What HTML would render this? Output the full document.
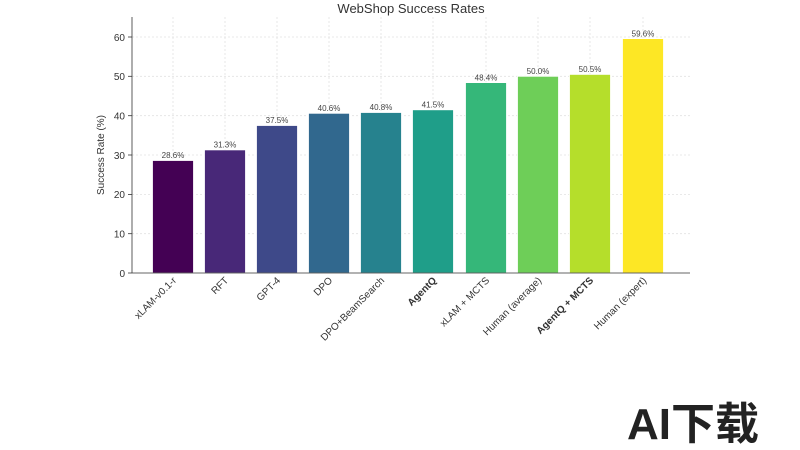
<!DOCTYPE html>
<html><head><style>body{margin:0;background:#fff}svg{display:block}</style></head><body>
<svg width="800" height="450" viewBox="0 0 800 450" xmlns="http://www.w3.org/2000/svg" font-family="Liberation Sans, DejaVu Sans, sans-serif">
<rect width="800" height="450" fill="#fff"/>
<text x="411" y="13" font-size="13" fill="#333" text-anchor="middle">WebShop Success Rates</text>
<g stroke="#e2e2e2" stroke-dasharray="2,2" stroke-width="0.8">
<line x1="132" x2="690" y1="233.7" y2="233.7"/><line x1="132" x2="690" y1="194.4" y2="194.4"/><line x1="132" x2="690" y1="155" y2="155"/><line x1="132" x2="690" y1="115.7" y2="115.7"/><line x1="132" x2="690" y1="76.3" y2="76.3"/><line x1="132" x2="690" y1="37" y2="37"/>
<line x1="173" x2="173" y1="17" y2="273"/><line x1="225" x2="225" y1="17" y2="273"/><line x1="277" x2="277" y1="17" y2="273"/><line x1="329" x2="329" y1="17" y2="273"/><line x1="381" x2="381" y1="17" y2="273"/><line x1="433" x2="433" y1="17" y2="273"/><line x1="486" x2="486" y1="17" y2="273"/><line x1="538" x2="538" y1="17" y2="273"/><line x1="590" x2="590" y1="17" y2="273"/><line x1="643" x2="643" y1="17" y2="273"/>
</g>
<g stroke="#fff" stroke-width="0.8">
<rect x="152.5" y="160.5" width="41" height="112.5" fill="#440154"/>
<rect x="204.5" y="149.9" width="41" height="123.1" fill="#482878"/>
<rect x="256.5" y="125.5" width="41" height="147.5" fill="#3e4989"/>
<rect x="308.5" y="113.3" width="41" height="159.7" fill="#31688e"/>
<rect x="360.5" y="112.5" width="41" height="160.5" fill="#26828e"/>
<rect x="412.5" y="109.8" width="41" height="163.2" fill="#1f9e89"/>
<rect x="465.5" y="82.6" width="41" height="190.4" fill="#35b779"/>
<rect x="517.5" y="76.3" width="41" height="196.7" fill="#6ece58"/>
<rect x="569.5" y="74.4" width="41" height="198.6" fill="#b5de2b"/>
<rect x="622.5" y="38.6" width="41" height="234.4" fill="#fde725"/>
</g>
<g font-size="8" fill="#444" text-anchor="middle">
<text x="173" y="158">28.6%</text><text x="225" y="147.5">31.3%</text><text x="277" y="123">37.5%</text><text x="329" y="111">40.6%</text><text x="381" y="110">40.8%</text><text x="433" y="107.5">41.5%</text><text x="486" y="80.5">48.4%</text><text x="538" y="74">50.0%</text><text x="590" y="72">50.5%</text><text x="643" y="36.5">59.6%</text>
</g>
<g stroke="#333" stroke-width="0.8" fill="none">
<line x1="132" y1="17" x2="132" y2="273"/><line x1="132" y1="273" x2="690" y2="273"/>
</g>
<g stroke="#333" stroke-width="0.8">
<line x1="128" x2="132" y1="273" y2="273"/><line x1="128" x2="132" y1="233.7" y2="233.7"/><line x1="128" x2="132" y1="194.4" y2="194.4"/><line x1="128" x2="132" y1="155" y2="155"/><line x1="128" x2="132" y1="115.7" y2="115.7"/><line x1="128" x2="132" y1="76.3" y2="76.3"/><line x1="128" x2="132" y1="37" y2="37"/>
</g>
<g font-size="10" fill="#333" text-anchor="end">
<text x="125" y="277">0</text><text x="125" y="237.5">10</text><text x="125" y="198">20</text><text x="125" y="159">30</text><text x="125" y="119.5">40</text><text x="125" y="80">50</text><text x="125" y="41">60</text>
</g>
<text transform="translate(104,155) rotate(-90)" font-size="10" fill="#333" text-anchor="middle">Success Rate (%)</text>
<g font-size="10" fill="#333" text-anchor="end">
<text transform="translate(177,281) rotate(-45)">xLAM-v0.1-r</text>
<text transform="translate(229,281) rotate(-45)">RFT</text>
<text transform="translate(281,281) rotate(-45)">GPT-4</text>
<text transform="translate(333,281) rotate(-45)">DPO</text>
<text transform="translate(385,281) rotate(-45)">DPO+BeamSearch</text>
<text transform="translate(437,281) rotate(-45)" font-weight="bold">AgentQ</text>
<text transform="translate(490,281) rotate(-45)">xLAM + MCTS</text>
<text transform="translate(542,281) rotate(-45)">Human (average)</text>
<text transform="translate(594,281) rotate(-45)" font-weight="bold">AgentQ + MCTS</text>
<text transform="translate(647,281) rotate(-45)">Human (expert)</text>
</g>
<text x="627" y="439" font-size="44" font-weight="bold" fill="#222" style="font-family:'Liberation Sans','Noto Sans CJK SC',sans-serif">AI下载</text>
</svg>
</body></html>
